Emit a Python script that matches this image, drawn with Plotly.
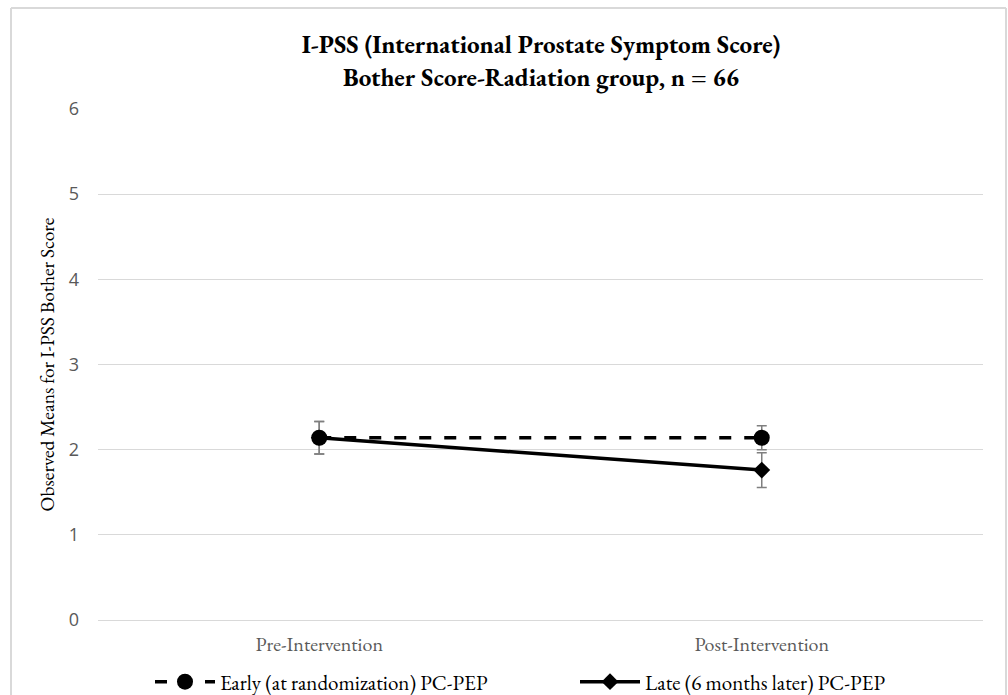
import plotly.graph_objects as go

categories = ["Pre-Intervention", "Post-Intervention"]
early_means = [2.14, 2.14]
early_err = [0.19, 0.14]
late_means = [2.14, 1.76]
late_err = [0.19, 0.205]
y_ticks = [0, 1, 2, 3, 4, 5, 6]

SERIF = "EB Garamond, Garamond, Liberation Serif, serif"

fig = go.Figure()
fig.add_trace(go.Scatter(
    x=categories, y=late_means, name="Late (6 months later) PC-PEP",
    mode="lines+markers",
    line=dict(color="black", width=3.5),
    marker=dict(symbol="diamond", size=13, color="black"),
    error_y=dict(type="data", array=late_err, color="#7f7f7f", thickness=1.5, width=5),
))
fig.add_trace(go.Scatter(
    x=categories, y=early_means, name="Early (at randomization) PC-PEP",
    mode="lines+markers",
    line=dict(color="black", width=3.5, dash="12px,13px"),
    marker=dict(symbol="circle", size=16, color="black"),
    error_y=dict(type="data", array=early_err, color="#7f7f7f", thickness=1.5, width=5),
))

W, H = 1008, 695
L, R, T, B = 98, 25, 109, 75
pw, ph = W - L - R, H - T - B

def px(x):
    return (x - L) / pw

def py(y):
    return (H - B - y) / ph

border = "#d9d9d9"
shapes = [
    dict(type="line", xref="paper", yref="paper", x0=px(11), x1=px(11), y0=py(8), y1=py(700), line=dict(color=border, width=2)),
    dict(type="line", xref="paper", yref="paper", x0=px(11), x1=px(1006), y0=py(8), y1=py(8), line=dict(color=border, width=2)),
    dict(type="line", xref="paper", yref="paper", x0=px(1006), x1=px(1006), y0=py(8), y1=py(700), line=dict(color=border, width=2)),
]

fig.update_layout(
    width=W, height=H,
    margin=dict(l=L, r=R, t=T, b=B, autoexpand=False),
    paper_bgcolor="white", plot_bgcolor="white",
    title=dict(
        text="<b>I-PSS (International Prostate Symptom Score)<br>Bother Score-Radiation group, n = 66</b>",
        x=px(541), xref="paper", xanchor="center",
        y=1 - 53 / H, yref="container", yanchor="middle",
        font=dict(family=SERIF, size=25, color="black"),
    ),
    xaxis=dict(
        type="category", range=[-0.5, 1.5],
        showgrid=False, showline=False, ticks="",
        tickfont=dict(family=SERIF, size=20, color="#595959"),
        ticklabelstandoff=10,
    ),
    yaxis=dict(
        range=[0, 6], tickvals=y_ticks, showgrid=True, gridcolor="#d9d9d9", gridwidth=1,
        zeroline=True, zerolinecolor="#d9d9d9", zerolinewidth=1,
        showline=False, ticks="",
        tickfont=dict(family="Open Sans, sans-serif", size=18, color="#595959"),
        ticklabelstandoff=18,
        title=dict(text="Observed Means for I-PSS Bother Score",
                   font=dict(family=SERIF, size=19.5, color="black"), standoff=8),
    ),
    shapes=shapes,
    showlegend=True,
    legend=dict(
        orientation="h", x=px(150), xanchor="left", y=py(682), yanchor="middle",
        traceorder="reversed",
        font=dict(family=SERIF, size=21, color="black"),
        itemwidth=60, entrywidth=350,
        bgcolor="rgba(0,0,0,0)",
    ),
)

fig.write_html("out.html")
